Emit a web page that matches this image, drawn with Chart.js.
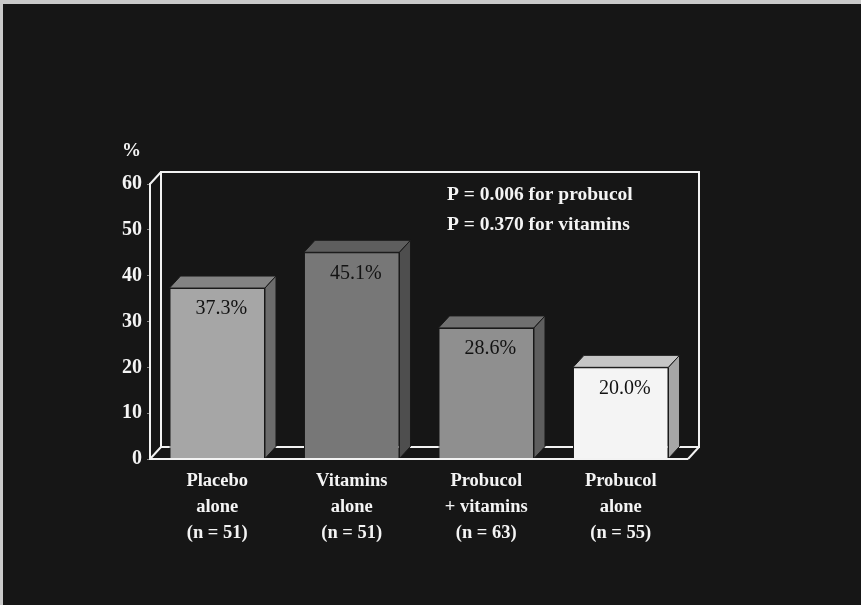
<!DOCTYPE html>
<html>
<head>
<meta charset="utf-8">
<script src="https://cdn.jsdelivr.net/npm/chart.js@4.4.1/dist/chart.umd.min.js"></script>
<style>
  html, body { margin: 0; padding: 0; background: #161616; }
  #wrap { width: 861px; height: 605px; position: relative; }
</style>
</head>
<body>
<div id="wrap"><canvas id="c" width="861" height="605"></canvas></div>
<script>
// Incidence (%) per treatment group
const categories = [
  ['Placebo', 'alone', '(n = 51)'],
  ['Vitamins', 'alone', '(n = 51)'],
  ['Probucol', '+ vitamins', '(n = 63)'],
  ['Probucol', 'alone', '(n = 55)']
];
const percentValues = [37.3, 45.1, 28.6, 20.0];
const valueLabels = ['37.3%', '45.1%', '28.6%', '20.0%'];
const pValueNotes = ['P = 0.006 for probucol', 'P = 0.370 for vitamins'];
const yTickLabels = [0, 10, 20, 30, 40, 50, 60];

// Face colours for each box: front, top, side
const frontColors = ['#a6a6a6', '#777777', '#8f8f8f', '#f4f4f4'];
const topColors   = ['#838383', '#5e5e5e', '#707070', '#c6c6c6'];
const sideColors  = ['#6c6c6c', '#4e4e4e', '#5e5e5e', '#a6a6a6'];

const DX = 11, DY = -12;   // depth offset of the 3D box
const serif = '"Liberation Serif", "Times New Roman", serif';

const backdrop = {
  id: 'backdrop',
  beforeDraw(chart) {
    const ctx = chart.ctx;
    ctx.save();
    ctx.fillStyle = '#161616';
    ctx.fillRect(0, 0, chart.width, chart.height);
    ctx.fillStyle = '#c9c9c9';
    ctx.fillRect(0, 0, chart.width, 4);
    ctx.fillRect(0, 0, 3, chart.height);
    ctx.restore();
  }
};

// Back wall and floor edges of the 3D frame, box faces and text notes
const frame = {
  id: 'frame',
  beforeDatasetsDraw(chart) {
    const { ctx, chartArea: a } = chart;
    ctx.save();
    ctx.strokeStyle = '#f2f2f2';
    ctx.lineWidth = 2;
    ctx.beginPath();
    // back wall
    ctx.moveTo(a.left + DX, a.bottom + DY);
    ctx.lineTo(a.left + DX, a.top + DY);
    ctx.lineTo(a.right + DX, a.top + DY);
    ctx.lineTo(a.right + DX, a.bottom + DY);
    ctx.lineTo(a.left + DX, a.bottom + DY);
    // connecting diagonals
    ctx.moveTo(a.left, a.top);
    ctx.lineTo(a.left + DX, a.top + DY);
    ctx.moveTo(a.left, a.bottom);
    ctx.lineTo(a.left + DX, a.bottom + DY);
    ctx.moveTo(a.right, a.bottom);
    ctx.lineTo(a.right + DX, a.bottom + DY);
    ctx.stroke();
    ctx.restore();
  },
  afterDatasetsDraw(chart) {
    const { ctx, chartArea: a } = chart;
    const meta = chart.getDatasetMeta(0);
    ctx.save();
    meta.data.forEach((bar, i) => {
      const p = bar.getProps(['x', 'y', 'base', 'width'], true);
      const l = p.x - p.width / 2, r = p.x + p.width / 2, t = p.y, b = p.base;
      ctx.lineWidth = 1;
      ctx.strokeStyle = '#1a1a1a';
      // top face
      ctx.fillStyle = topColors[i];
      ctx.beginPath();
      ctx.moveTo(l, t);
      ctx.lineTo(l + DX, t + DY);
      ctx.lineTo(r + DX, t + DY);
      ctx.lineTo(r, t);
      ctx.closePath();
      ctx.fill();
      ctx.stroke();
      // side face
      ctx.fillStyle = sideColors[i];
      ctx.beginPath();
      ctx.moveTo(r, t);
      ctx.lineTo(r + DX, t + DY);
      ctx.lineTo(r + DX, b + DY);
      ctx.lineTo(r, b);
      ctx.closePath();
      ctx.fill();
      ctx.stroke();
      // value label on the front face
      ctx.fillStyle = '#121212';
      ctx.font = '20px ' + serif;
      ctx.textAlign = 'center';
      ctx.textBaseline = 'middle';
      ctx.fillText(valueLabels[i], p.x + 4, t + 21);
    });
    // front floor edge over the bar bottoms
    ctx.strokeStyle = '#f2f2f2';
    ctx.lineWidth = 2;
    ctx.beginPath();
    ctx.moveTo(a.left, a.bottom);
    ctx.lineTo(a.right, a.bottom);
    ctx.stroke();
    // unit and p-value notes
    ctx.fillStyle = '#f4f4f4';
    ctx.font = 'bold 19px ' + serif;
    ctx.textAlign = 'left';
    ctx.textBaseline = 'middle';
    ctx.fillText('%', a.left - 28, a.top - 33);
    ctx.font = 'bold 19.5px ' + serif;
    ctx.fillText(pValueNotes[0], 447, a.top + 11);
    ctx.fillText(pValueNotes[1], 447, a.top + 41);
    ctx.restore();
  }
};

new Chart(document.getElementById('c'), {
  type: 'bar',
  data: {
    labels: categories,
    datasets: [{
      data: percentValues,
      backgroundColor: frontColors,
      borderColor: '#1a1a1a',
      borderWidth: 1,
      barPercentage: 0.71,
      categoryPercentage: 1.0
    }]
  },
  options: {
    responsive: false,
    animation: false,
    layout: { padding: { left: 90, top: 184, right: 173, bottom: 40 } },
    plugins: { legend: { display: false }, tooltip: { enabled: false } },
    scales: {
      x: {
        grid: { display: false, drawTicks: false },
        border: { display: false },
        ticks: {
          color: '#f4f4f4',
          padding: 9,
          maxRotation: 0,
          autoSkip: false,
          font: { family: serif, size: 18.5, weight: 'bold', lineHeight: 1.41 }
        },
        afterFit(axis) { axis.height = 106; }
      },
      y: {
        min: 0,
        max: 60,
        grid: { display: true, drawOnChartArea: false, drawTicks: true, tickLength: 3, color: '#8a8a8a', lineWidth: 1 },
        border: { display: true, color: '#f2f2f2', width: 2 },
        ticks: {
          stepSize: 5,
          color: '#f4f4f4',
          padding: 5,
          font: { family: serif, size: 20, weight: 'bold' },
          callback: (v) => yTickLabels.includes(v) ? String(v) : ''
        },
        afterFit(axis) { axis.width = 60; }
      }
    }
  },
  plugins: [backdrop, frame]
});
</script>
</body>
</html>
